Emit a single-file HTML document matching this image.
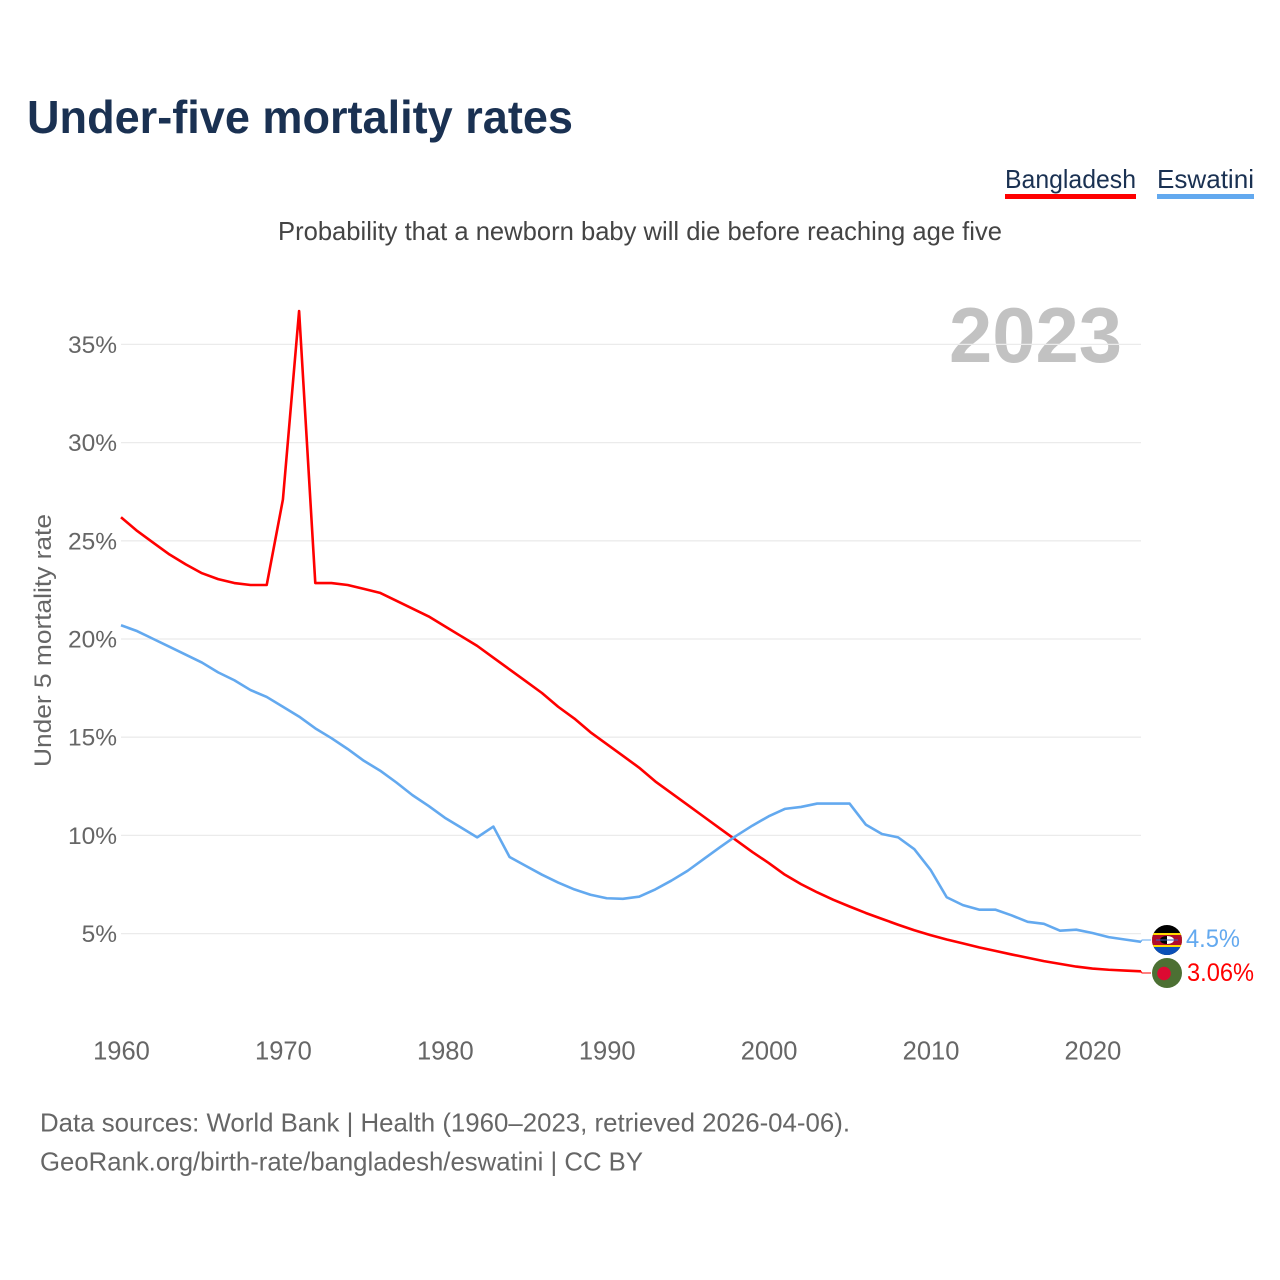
<!DOCTYPE html>
<html>
<head>
<meta charset="utf-8">
<style>
html,body{margin:0;padding:0;background:#fff;width:1280px;height:1280px;overflow:hidden}
svg{display:block;font-family:"Liberation Sans",sans-serif}
</style>
</head>
<body>
<svg id="chart" width="1280" height="1280" viewBox="0 0 1280 1280">
<defs>
<clipPath id="clip-esw"><circle cx="1167" cy="940" r="15"/></clipPath>
<clipPath id="clip-bgd"><circle cx="1167" cy="973" r="15"/></clipPath>
</defs>
<text x="27" y="133" font-size="46" font-weight="700" fill="#1a3152" textLength="546" lengthAdjust="spacingAndGlyphs">Under-five mortality rates</text>
<g>
<text x="1005" y="188" font-size="26" fill="#1a3152" textLength="131" lengthAdjust="spacingAndGlyphs">Bangladesh</text>
<rect x="1005" y="194" width="131" height="5" fill="#ff0000"/>
</g>
<g>
<text x="1157" y="188" font-size="26" fill="#1a3152" textLength="97" lengthAdjust="spacingAndGlyphs">Eswatini</text>
<rect x="1157" y="194" width="97" height="5" fill="#63a9ef"/>
</g>
<text x="278" y="240" font-size="26" fill="#444" textLength="724" lengthAdjust="spacingAndGlyphs">Probability that a newborn baby will die before reaching age five</text>
<text x="949" y="362" font-size="78" font-weight="700" fill="#c2c2c2" textLength="173" lengthAdjust="spacingAndGlyphs">2023</text>
<g id="grid"></g>
<g id="yticks"></g>
<g id="xticks"></g>
<text transform="translate(51,767) rotate(-90)" font-size="24.5" fill="#666" textLength="253" lengthAdjust="spacingAndGlyphs">Under 5 mortality rate</text>
<g id="series"></g>
<g clip-path="url(#clip-esw)">
<rect x="1152" y="925" width="30" height="30" fill="#000"/>
<rect x="1152" y="933" width="30" height="14" fill="#ffd900"/>
<rect x="1152" y="935" width="30" height="10" fill="#b10c2c"/>
<rect x="1152" y="947" width="30" height="8" fill="#0b50b8"/>
<ellipse cx="1167" cy="940" rx="7" ry="4" fill="#000"/>
<path d="M1167 936a7 4 0 0 1 0 8z" fill="#fff"/>
<rect x="1156" y="939.5" width="22" height="1" fill="#3e5eb9"/>
</g>
<g>
<circle cx="1167" cy="973" r="15" fill="#4c7033"/>
<circle cx="1164" cy="973.5" r="6.8" fill="#dc0a32"/>
</g>
<text x="1186" y="947" font-size="25" fill="#63a9ef" textLength="54" lengthAdjust="spacingAndGlyphs">4.5%</text>
<text x="1187" y="981" font-size="25" fill="#ff0000" textLength="67" lengthAdjust="spacingAndGlyphs">3.06%</text>
<text x="40" y="1131.5" font-size="26" fill="#666" textLength="810" lengthAdjust="spacingAndGlyphs">Data sources: World Bank | Health (1960–2023, retrieved 2026-04-06).</text>
<text x="40" y="1170.5" font-size="26" fill="#666" textLength="603" lengthAdjust="spacingAndGlyphs">GeoRank.org/birth-rate/bangladesh/eswatini | CC BY</text>
</svg>
<script>
const startYear = 1960;
const endYear = 2023;
const yTickValues = [5, 10, 15, 20, 25, 30, 35];
const xTickYears = [1960, 1970, 1980, 1990, 2000, 2010, 2020];
const bangladesh = [26.2,25.5,24.9,24.3,23.8,23.35,23.05,22.85,22.75,22.75,27.1,36.7,22.85,22.85,22.75,22.55,22.35,21.95,21.55,21.15,20.65,20.15,19.65,19.05,18.45,17.85,17.25,16.55,15.95,15.25,14.65,14.05,13.45,12.75,12.15,11.55,10.95,10.35,9.75,9.15,8.6,8.0,7.52,7.1,6.72,6.38,6.05,5.75,5.45,5.17,4.92,4.7,4.5,4.3,4.12,3.94,3.77,3.6,3.46,3.32,3.22,3.16,3.12,3.08];
const eswatini = [20.7,20.4,20.0,19.6,19.2,18.8,18.3,17.9,17.4,17.05,16.55,16.05,15.45,14.95,14.4,13.8,13.3,12.7,12.05,11.5,10.9,10.4,9.9,10.45,8.9,8.45,8.0,7.6,7.25,6.98,6.8,6.77,6.88,7.25,7.7,8.2,8.8,9.4,9.98,10.5,10.97,11.35,11.45,11.62,11.62,11.62,10.55,10.07,9.9,9.3,8.25,6.85,6.45,6.22,6.22,5.93,5.6,5.5,5.15,5.2,5.03,4.82,4.7,4.58];

const NS = 'http://www.w3.org/2000/svg';
function xScale(year) { return 121 + (year - startYear) * (1141 - 121) / (endYear - startYear); }
function yScale(v) { return 933.6 - (v - 5) * 19.64; }
function mk(tag, parent, attrs) {
  const el = document.createElementNS(NS, tag);
  for (const k in attrs) el.setAttribute(k, attrs[k]);
  parent.appendChild(el);
  return el;
}
const grid = document.getElementById('grid');
const yticks = document.getElementById('yticks');
const xticks = document.getElementById('xticks');
const series = document.getElementById('series');

yTickValues.forEach(function (v) {
  const line = mk('line', grid, { x1: 121, x2: 1141, y1: yScale(v), y2: yScale(v), stroke: '#ebebeb', 'stroke-width': 1.3 });
  
  
  const t = mk('text', yticks, { x: 117, y: yScale(v) + 8.5, 'text-anchor': 'end', 'font-size': 24.5, fill: '#666' });
  
  
  t.textContent = v + '%';
});
xTickYears.forEach(function (year) {
  const t = mk('text', xticks, { x: xScale(year) + 0.5, y: 1059.5, 'text-anchor': 'middle', 'font-size': 25.5, fill: '#666' });
  
  
  t.textContent = String(year);
});
function drawSeries(values, color, labelY, name) {
  const pts = values.map(function (v, i) { return xScale(startYear + i) + ',' + yScale(v); });
  const line = mk('polyline', series, { points: pts.join(' '), fill: 'none', stroke: color, 'stroke-width': 2.6, 'stroke-linejoin': 'round' });
  
  
  const lastX = xScale(endYear);
  const lastY = yScale(values[values.length - 1]);
  const conn = mk('polyline', series, { points: lastX + ',' + lastY + ' ' + (lastX + 1) + ',' + labelY + ' ' + (lastX + 10) + ',' + labelY, fill: 'none', stroke: color, 'stroke-width': 1 });
  
  
}
drawSeries(bangladesh, '#ff0000', 973, 'bangladesh');
drawSeries(eswatini, '#63a9ef', 940, 'eswatini');
</script>
</body>
</html>
